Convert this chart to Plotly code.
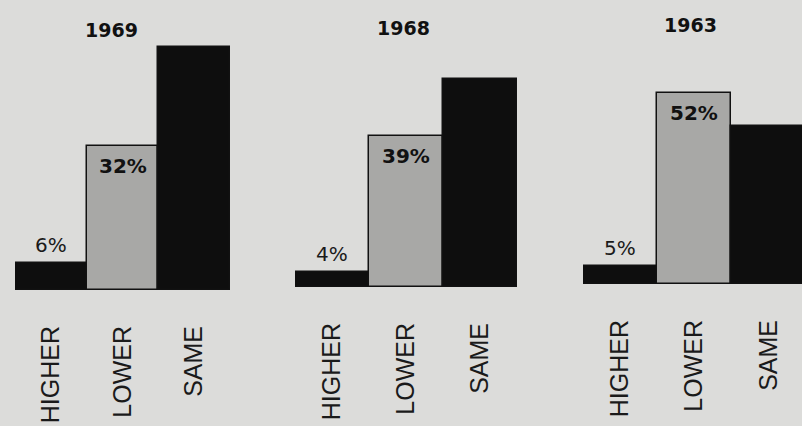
import plotly.graph_objects as go

# ---- data ----
years = ["1969", "1968", "1963"]
categories = ["HIGHER", "LOWER", "SAME"]
values_1969 = [6, 32, 54]
values_1968 = [4, 39, 54]
values_1963 = [5, 52, 43]
labels_1969 = ["6%", "32%", ""]
labels_1968 = ["4%", "39%", ""]
labels_1963 = ["5%", "52%", ""]

W, H = 802, 426
BG = "#dcdcda"
DARK = "#0e0e0e"
MID = "#a8a8a6"

panels = [
    # (values, labels, x-domain px, baseline px, px per unit, x range)
    (values_1969, labels_1969, (15, 230), 290, 4.5, [-0.5, 2.5]),
    (values_1968, labels_1968, (295, 517), 287, 3.86, [-0.5, 2.5]),
    (values_1963, labels_1963, (583, 802), 284, 3.67, [-0.5, 2.45]),
]

fig = go.Figure()
annotations = []
layout_axes = {}
for i, (vals, labs, (x0, x1), base, k, xr) in enumerate(panels):
    n = "" if i == 0 else str(i + 1)
    xa, ya = "x" + n, "y" + n
    fig.add_trace(go.Bar(
        x=categories, y=vals, xaxis=xa, yaxis=ya,
        marker=dict(color=[DARK, MID, DARK], line=dict(color="#111111", width=1.5)),
        width=1.0, hoverinfo="skip", showlegend=False,
    ))
    layout_axes["xaxis" + n] = dict(
        domain=[x0 / W, x1 / W], anchor=ya, range=xr, type="category",
        showgrid=False, showline=False, zeroline=False, ticks="",
        tickangle=-90, ticklabelstandoff=30,
        tickfont=dict(family="Liberation Sans, Arial", size=25, color="#1a1a1a"),
    )
    layout_axes["yaxis" + n] = dict(
        domain=[(H - base) / H, 1.0], anchor=xa, range=[0, base / k],
        visible=False, fixedrange=True,
    )
    # year title
    annotations.append(dict(
        text="<b>%s</b>" % years[i], xref=xa + " domain", yref="paper",
        x=[0.45, 0.49, 0.49][i], y=(H - [30, 28, 25][i]) / H,
        showarrow=False, font=dict(family="DejaVu Sans", size=19, color="#111111"),
        xanchor="center", yanchor="middle",
    ))
    # value labels
    for c, v, t in zip(categories, vals, labs):
        if not t:
            continue
        if c == "HIGHER":
            annotations.append(dict(
                text=t, x=c, y=v, xref=xa, yref=ya, showarrow=False,
                yanchor="bottom", yshift=4,
                font=dict(family="DejaVu Sans", size=20, color="#1a1a1a"),
            ))
        else:
            annotations.append(dict(
                text="<b>%s</b>" % t, x=c, y=v, xref=xa, yref=ya, showarrow=False,
                yanchor="top", yshift=-6,
                font=dict(family="DejaVu Sans", size=20, color="#111111"),
            ))

fig.update_layout(
    width=W, height=H, margin=dict(l=0, r=0, t=0, b=0),
    paper_bgcolor=BG, plot_bgcolor=BG, bargap=0,
    annotations=annotations, **layout_axes,
)
fig.write_html("out.html", config={"displayModeBar": False},
               post_script="document.body.style.margin='0';")
